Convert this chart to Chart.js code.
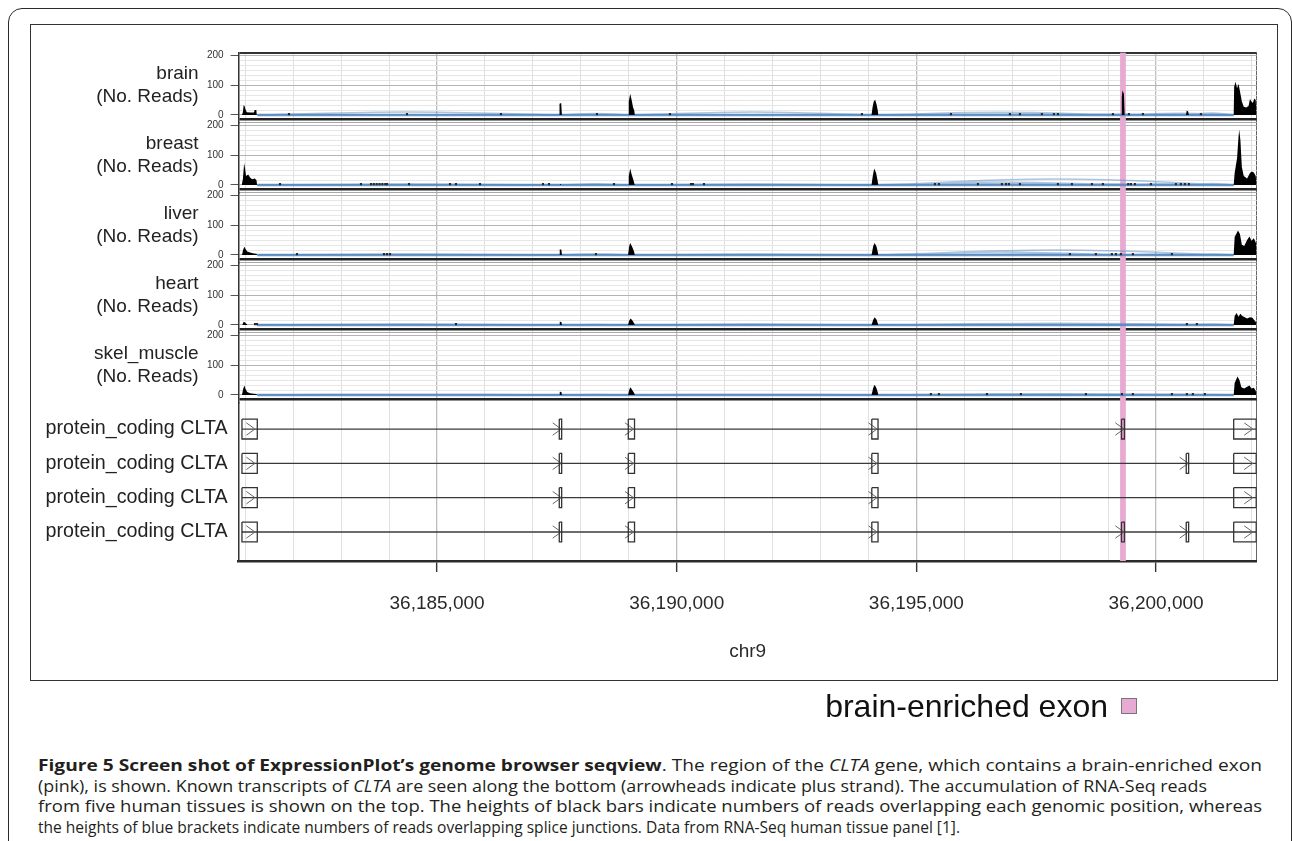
<!DOCTYPE html>
<html>
<head>
<meta charset="utf-8">
<title>CLTA seqview</title>
<script src="https://cdn.jsdelivr.net/npm/chart.js@4.4.1/dist/chart.umd.min.js"></script>
<style>
body { margin:0; background:#fff; width:1292px; height:841px; position:relative; overflow:hidden; }
#outer { position:absolute; left:8px; top:8px; width:1284px; height:900px; border:1.5px solid #2b2b2b; border-radius:14px; box-sizing:border-box; }
#inner { position:absolute; left:30px; top:24px; width:1248px; height:657px; border:1.2px solid #333; box-sizing:border-box; }
#seqview { position:absolute; left:0; top:0; }
#legend { position:absolute; left:700px; top:688px; width:408px; text-align:right; font:32px "Liberation Sans", Arial, sans-serif; color:#111; line-height:36px; }
#legendBox { position:absolute; left:1121px; top:698px; width:16px; height:16px; background:#e7aad3; border:1px solid #777; box-sizing:border-box; }
#caption { position:absolute; left:38px; top:755px; font:16.5px "Open Sans", sans-serif; line-height:20.7px; color:#231f20; white-space:nowrap; }
#caption .ln { display:table; transform-origin:0 0; }
</style>
</head>
<body>
<div id="outer"></div>
<div id="inner"></div>
<canvas id="seqview" width="1292" height="690"></canvas>
<div id="legend">brain-enriched exon</div>
<div id="legendBox"></div>
<div id="caption">
<div class="ln" data-w="1224"><b>Figure 5 Screen shot of ExpressionPlot’s genome browser seqview</b>. The region of the <i>CLTA</i> gene, which contains a brain-enriched exon</div>
<div class="ln" data-w="1169">(pink), is shown. Known transcripts of <i>CLTA</i> are seen along the bottom (arrowheads indicate plus strand). The accumulation of RNA-Seq reads</div>
<div class="ln" data-w="1224">from five human tissues is shown on the top. The heights of black bars indicate numbers of reads overlapping each genomic position, whereas</div>
<div class="ln" data-w="922">the heights of blue brackets indicate numbers of reads overlapping splice junctions. Data from RNA-Seq human tissue panel [1].</div>
</div>
<script>
// genomic window on chr9
const xMin = 36180860, xMax = 36202100;
const xTicks = [36185000, 36190000, 36195000, 36200000];
const yTicks = [0, 100, 200];

const tissues = ['brain', 'breast', 'liver', 'heart', 'skel_muscle'];

// exons of CLTA [start, end]
const exons = [[36180930, 36181250], [36187550, 36187600], [36188990, 36189120], [36194070, 36194200],
               [36199280, 36199340], [36200630, 36200680], [36201620, 36202090]];
// exon indices used by each transcript (top to bottom)
const transcripts = [[0, 1, 2, 3, 4, 6], [0, 1, 2, 3, 5, 6], [0, 1, 2, 3, 6], [0, 1, 2, 3, 4, 5, 6]];
const transcriptLabels = ['protein_coding CLTA', 'protein_coding CLTA', 'protein_coding CLTA', 'protein_coding CLTA'];
const brainExon = [36199250, 36199370];

// read coverage [position, reads]
const brainReads = [[36180930,0],[36180950,10],[36180965,33],[36180985,30],[36181000,20],[36181030,9],[36181100,8],[36181180,8],[36181195,17],[36181230,17],[36181240,0],
  [36187545,0],[36187555,38],[36187590,40],[36187605,0],
  [36188985,0],[36189000,45],[36189030,71],[36189060,50],[36189090,25],[36189115,15],[36189125,0],
  [36194065,0],[36194085,25],[36194110,45],[36194140,51],[36194170,35],[36194195,15],[36194205,0],
  [36199275,0],[36199285,60],[36199300,83],[36199330,70],[36199345,0],
  [36200625,0],[36200640,15],[36200670,12],[36200685,0],
  [36201620,0],[36201630,95],[36201660,111],[36201690,90],[36201720,105],[36201750,80],[36201790,45],[36201830,28],[36201880,25],[36201930,30],[36201960,54],[36201990,45],[36202020,40],[36202050,55],[36202080,50],[36202095,0]];
const breastReads = [[36180925,0],[36180950,20],[36180975,73],[36180995,55],[36181015,30],[36181060,35],[36181100,25],[36181140,19],[36181200,22],[36181235,15],[36181245,0],
  [36187550,0],[36187565,4],[36187595,0],
  [36188985,0],[36189000,30],[36189030,55],[36189060,35],[36189100,15],[36189125,0],
  [36194065,0],[36194090,30],[36194120,55],[36194160,40],[36194195,12],[36194205,0],
  [36201620,0],[36201640,40],[36201690,90],[36201720,160],[36201735,186],[36201760,150],[36201790,60],[36201830,30],[36201900,22],[36201960,40],[36202000,45],[36202040,42],[36202080,30],[36202095,0]];
const liverReads = [[36180930,0],[36180955,18],[36180980,28],[36181005,20],[36181040,12],[36181100,8],[36181180,5],[36181235,4],[36181245,0],
  [36187545,0],[36187560,19],[36187595,18],[36187605,0],
  [36188985,0],[36189010,30],[36189030,40],[36189070,28],[36189110,12],[36189125,0],
  [36194065,0],[36194100,30],[36194130,40],[36194170,28],[36194195,10],[36194205,0],
  [36201620,0],[36201640,60],[36201710,82],[36201750,70],[36201790,34],[36201840,30],[36201900,50],[36201950,62],[36201990,48],[36202040,56],[36202085,40],[36202095,0]];
const heartReads = [[36180935,0],[36180965,11],[36180995,8],[36181025,3],[36181045,0],
  [36187545,0],[36187560,11],[36187595,10],[36187605,0],
  [36188985,0],[36189010,15],[36189040,22],[36189080,14],[36189115,5],[36189125,0],
  [36194065,0],[36194100,18],[36194130,26],[36194170,18],[36194195,6],[36194205,0],
  [36201620,0],[36201640,30],[36201680,40],[36201720,28],[36201760,38],[36201800,30],[36201850,26],[36201900,22],[36201960,26],[36202010,24],[36202060,14],[36202090,8],[36202095,0]];
const skelReads = [[36180930,0],[36180955,20],[36180980,32],[36181005,20],[36181040,10],[36181100,6],[36181180,4],[36181235,3],[36181245,0],
  [36187545,0],[36187560,11],[36187595,10],[36187605,0],
  [36188985,0],[36189010,18],[36189035,26],[36189075,16],[36189115,6],[36189125,0],
  [36194065,0],[36194100,24],[36194130,34],[36194170,22],[36194195,8],[36194205,0],
  [36201620,0],[36201640,40],[36201700,62],[36201740,50],[36201780,26],[36201840,22],[36201900,28],[36201950,32],[36201990,22],[36202040,24],[36202080,14],[36202095,0]];

// single stray reads in introns
const brainDots = [36181911,36184373,36186334,36188336,36189859,36193864,36195721,36196951,36197160,36197619,36197869,36197953,36199100,36199434,36199726,36200936];
const breastDots = [36181724,36183413,36183622,36183680,36183740,36183800,36183860,36183920,36183956,36184415,36185270,36185395,36185896,36187210,36187335,36188691,36189901,36190297,36190339,36190568,36195387,36195470,36196284,36196784,36196868,36196930,36197160,36197953,36198245,36198662,36198891,36199420,36199475,36199559,36199893,36200414,36200518,36200602,36200685];
const liverDots = [36182078,36183893,36183956,36184018,36188315,36198203,36198745,36199079,36199162,36199267,36199517,36200331];
const heartDots = [36181202,36181244,36185395,36200643,36200852];
const skelDots = [36195303,36195470,36196472,36197181,36198537,36199288,36199517,36200331,36200643,36200768,36201018];

// splice junctions [donor, acceptor] and their read heights per tissue
const junctions = [[36181250,36187550],[36187600,36188990],[36189120,36194070],[36194200,36199280],[36199340,36201620],
                   [36194200,36200630],[36200680,36201620],[36194200,36201620],[36199340,36200630]];
const brainJunctions = [10, 5, 10, 9, 6, 3, 7, 3, 3];
const breastJunctions = [3, 4, 3, 10, 4, 5, 5, 20, 3];
const liverJunctions = [3, 3, 3, 10, 3, 3, 3, 17, 2];
const heartJunctions = [3, 2, 3, 4, 2, 2, 3, 6, 2];
const skelJunctions = [2, 2, 2, 3, 2, 2, 2, 4, 2];

const readsByTissue = [brainReads, breastReads, liverReads, heartReads, skelReads];
const dotsByTissue = [brainDots, breastDots, liverDots, heartDots, skelDots];
const junctionsByTissue = [brainJunctions, breastJunctions, liverJunctions, heartJunctions, skelJunctions];

// panel geometry
const yMin = -25.8, yMax = 208.7, yFloor = -14.4;
const axisWidth = 238.6;
const boxHalf = 0.29, arrowHalf = 0.18, arrowLen = 180;
const pink = '#e7aad3';

const yGrid = [yFloor];
for (let k = 0; k <= 12; k++) yGrid.push(k * 100 / 6);
yGrid.push(yMax);

Chart.defaults.font.family = '"Liberation Sans", Arial, sans-serif';
Chart.defaults.color = '#222';

const datasets = [];
tissues.forEach(function (t, i) {
  const axis = 'y' + i;
  datasets.push({
    type: 'line', label: t, yAxisID: axis,
    data: readsByTissue[i].map(p => ({x: p[0], y: p[1]})),
    borderColor: 'rgba(0,0,0,0)', borderWidth: 1, pointRadius: 0,
    fill: 'origin', backgroundColor: '#000', order: 1
  });
  datasets.push({
    type: 'scatter', label: t + ' single', yAxisID: axis,
    data: dotsByTissue[i].map(x => ({x: x, y: 3})),
    pointStyle: 'rect', pointRadius: 1.5, backgroundColor: '#2a2a2a', borderWidth: 0, order: 2
  });
  const arcs = [];
  junctions.forEach(function (j, k) {
    arcs.push({x: j[0], y: 0}, {x: (j[0] + j[1]) / 2, y: junctionsByTissue[i][k]}, {x: j[1], y: 0}, {x: j[1], y: null});
  });
  datasets.push({
    type: 'line', label: t + ' junctions', yAxisID: axis, data: arcs,
    borderColor: 'rgba(90,140,195,0.5)', borderWidth: 1.5, pointRadius: 0, tension: 0.4, fill: false, order: 3
  });
  datasets.push({
    type: 'line', label: t + ' junction base', yAxisID: axis,
    data: [{x: exons[0][1], y: 0}, {x: exons[exons.length - 1][0], y: 0}],
    borderColor: 'rgba(80,135,192,0.85)', borderWidth: 2.4, pointRadius: 0, fill: false, order: 4
  });
});

transcripts.forEach(function (tr, r) {
  const row = r + 1;
  const boxes = [], heads = [];
  tr.forEach(function (k) {
    const s = exons[k][0], e = exons[k][1];
    boxes.push({x: s, y: row - boxHalf}, {x: e, y: row - boxHalf}, {x: e, y: row + boxHalf},
               {x: s, y: row + boxHalf}, {x: s, y: row - boxHalf}, {x: s, y: null});
    const tip = e - 0.15 * (e - s);
    heads.push({x: tip - arrowLen, y: row - arrowHalf}, {x: tip, y: row}, {x: tip - arrowLen, y: row + arrowHalf}, {x: tip, y: null});
  });
  datasets.push({
    type: 'line', label: 'intron ' + row, yAxisID: 'yT',
    data: [{x: exons[tr[0]][0], y: row}, {x: exons[tr[tr.length - 1]][1], y: row}],
    borderColor: '#3a3a3a', borderWidth: 1.3, pointRadius: 0, fill: false, order: 6
  });
  datasets.push({
    type: 'line', label: 'exons ' + row, yAxisID: 'yT', data: boxes,
    borderColor: '#333', borderWidth: 1.3, pointRadius: 0, fill: false, order: 5
  });
  datasets.push({
    type: 'line', label: 'strand ' + row, yAxisID: 'yT', data: heads,
    borderColor: '#666', borderWidth: 1, pointRadius: 0, fill: false, order: 5
  });
});

const scales = {
  x: {
    type: 'linear', position: 'bottom', min: xMin, max: xMax,
    afterBuildTicks: function (s) {
      const t = [];
      for (let v = 36181000; v <= 36202000; v += 1000) t.push({value: v});
      t.push({value: xMax});
      s.ticks = t;
    },
    afterFit: function (s) { s.height = 102.4; },
    ticks: {
      autoSkip: false, maxRotation: 0, padding: 20.6, color: '#2a2a2a', font: {size: 19},
      callback: v => xTicks.includes(v) ? v.toLocaleString('en-US') : ''
    },
    grid: {
      color: c => (c.tick && c.tick.value === xMax) ? '#666' : (c.tick && c.tick.value % 5000 === 0 ? '#bdbdbd' : '#e0e0e0'),
      lineWidth: c => (c.tick && c.tick.value % 5000 === 0) ? 1.3 : 1,
      tickLength: 11, tickWidth: 1.4,
      tickColor: c => (c.tick && xTicks.includes(c.tick.value)) ? '#333' : 'rgba(0,0,0,0)'
    },
    border: {display: true, color: '#2a2a2a', width: 2.5},
    title: {display: true, text: 'chr9', font: {size: 19}, color: '#2a2a2a', padding: {top: 0, bottom: 0}}
  }
};

tissues.forEach(function (t, i) {
  scales['y' + i] = {
    type: 'linear', position: 'left', stack: 'tracks', stackWeight: 70, weight: 10 - i,
    min: yMin, max: yMax,
    afterBuildTicks: function (s) { s.ticks = yGrid.map(v => ({value: v})); },
    afterFit: function (s) { s.width = axisWidth; },
    ticks: {
      autoSkip: false, padding: 7, color: '#333', font: {size: 10},
      callback: v => yTicks.includes(v) ? String(v) : ''
    },
    grid: {
      color: function (c) {
        const v = c.tick ? c.tick.value : 0;
        if (v === yFloor) return '#222';
        if (v === yMax) return i === 0 ? '#333' : '#a8a8a8';
        if (yTicks.includes(v)) return '#b3b3b3';
        return '#e6e6e6';
      },
      lineWidth: function (c) {
        const v = c.tick ? c.tick.value : 0;
        if (v === yFloor) return 2.6;
        if (v === yMax && i === 0) return 2;
        return 1;
      },
      tickLength: 8,
      tickColor: c => (c.tick && yTicks.includes(c.tick.value)) ? '#555' : 'rgba(0,0,0,0)'
    },
    border: {display: true, color: '#333', width: 1.5}
  };
});

scales.yT = {
  type: 'linear', position: 'left', stack: 'tracks', stackWeight: 158.3, weight: 1,
  min: 0.233, max: 4.845, reverse: true,
  afterFit: function (s) { s.width = axisWidth; },
  ticks: {display: false},
  grid: {display: false},
  border: {display: true, color: '#333', width: 1.5}
};

const highlightPlugin = {
  id: 'brainExonBand',
  beforeDatasetsDraw(chart) {
    const ctx = chart.ctx, x = chart.scales.x, a = chart.chartArea;
    const x0 = x.getPixelForValue(brainExon[0]), x1 = x.getPixelForValue(brainExon[1]);
    ctx.save();
    ctx.fillStyle = pink;
    ctx.fillRect(x0, a.top, x1 - x0, a.bottom - a.top);
    ctx.restore();
  }
};

const labelPlugin = {
  id: 'trackLabels',
  afterDraw(chart) {
    const ctx = chart.ctx;
    ctx.save();
    ctx.fillStyle = '#222';
    ctx.textAlign = 'right';
    ctx.textBaseline = 'middle';
    ctx.font = '19px "Liberation Sans", Arial, sans-serif';
    tissues.forEach(function (t, i) {
      const yc = chart.scales['y' + i].getPixelForValue(100);
      ctx.fillText(t, chart.chartArea.left - 40, yc - 11.5);
      ctx.fillText('(No. Reads)', chart.chartArea.left - 40, yc + 11.5);
    });
    ctx.font = '19.7px "Liberation Sans", Arial, sans-serif';
    const st = chart.scales.yT;
    transcriptLabels.forEach(function (lab, r) {
      ctx.fillText(lab, chart.chartArea.left - 11, st.getPixelForValue(r + 1));
    });
    ctx.restore();
  }
};

new Chart(document.getElementById('seqview'), {
  type: 'line',
  data: {datasets: datasets},
  options: {
    responsive: false,
    devicePixelRatio: 1,
    animation: false,
    events: [],
    layout: {padding: {left: 0, right: 35.3, top: 52.7, bottom: 26.6}},
    plugins: {legend: {display: false}, tooltip: {enabled: false}},
    scales: scales
  },
  plugins: [highlightPlugin, labelPlugin]
});

// fit each caption line to the width it has in the figure
document.querySelectorAll('#caption .ln').forEach(function (ln) {
  const w = ln.getBoundingClientRect().width;
  const k = Math.max(0.75, Math.min(1.25, Number(ln.dataset.w) / w));
  ln.style.transform = 'scaleX(' + k + ')';
});
</script>
</body>
</html>
